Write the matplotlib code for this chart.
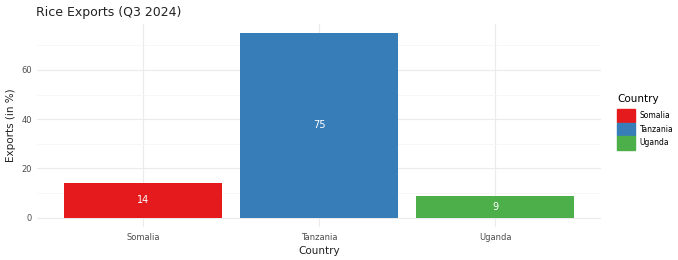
import matplotlib.pyplot as plt
import matplotlib.patches as mpatches
import numpy as np

countries = ['Somalia', 'Tanzania', 'Uganda']
exports = [14, 75, 9]
colors = ['#E41A1C', '#377EB8', '#4DAF4A']

fig = plt.figure(figsize=(6.78, 2.6), dpi=100)
ax = fig.add_axes([0.055, 0.127, 0.831, 0.782])

x = np.arange(1, len(countries) + 1)
ax.bar(x, exports, width=0.9, color=colors, zorder=2)
for xi, v in zip(x, exports):
    ax.text(xi, v / 2, str(v), color='white', ha='center', va='center', fontsize=7, zorder=3)

ax.set_xlim(0.4, 3.6)
ax.set_ylim(-3.75, 78.75)
ax.set_xticks(x)
ax.set_xticklabels(countries)
ax.set_yticks([0, 20, 40, 60])
ax.set_yticks([10, 30, 50, 70], minor=True)
ax.grid(True, which='major', color='#ebebeb', linewidth=0.8, zorder=0)
ax.grid(True, which='minor', axis='y', color='#f4f4f4', linewidth=0.5, zorder=0)
ax.tick_params(axis='both', which='both', length=0, labelsize=6, labelcolor='#4d4d4d', pad=4)
for s in ax.spines.values():
    s.set_visible(False)

ax.set_xlabel('Country', fontsize=7.5, color='#222222', labelpad=3)
ax.set_ylabel('Exports (in %)', fontsize=7.5, color='#222222', labelpad=4)
fig.text(0.053, 0.952, 'Rice Exports (Q3 2024)', fontsize=9, color='#222222', ha='left', va='center')

handles = [mpatches.Patch(color=c, label=n) for c, n in zip(colors, countries)]
leg = fig.legend(handles=handles, title='Country', loc='upper left', bbox_to_anchor=(0.905, 0.655),
                 frameon=False, fontsize=5.5, title_fontsize=7.5, handlelength=2.3, handleheight=2.3,
                 handletextpad=0.6, labelspacing=0.05, borderpad=0)
leg._legend_box.align = 'left'
leg._legend_box.sep = 4

fig.savefig('out.png', dpi=100, facecolor='white')
